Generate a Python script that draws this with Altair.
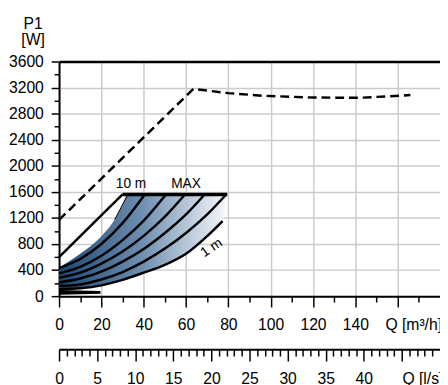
import altair as alt
import pandas as pd

# ---------------- data ----------------
dash_q = [0, 63.5, 80, 96, 120, 142, 166]
dash_p = [1170, 3180, 3115, 3075, 3047, 3043, 3085]

curves = {
    "A": ([0, 30], [600, 1560]),
    "B": ([0, 10, 20, 30, 40.5], [430, 570, 800, 1120, 1560]),
    "C": ([0, 10, 20, 30, 40, 50.5], [350, 450, 620, 860, 1160, 1560]),
    "D": ([0, 10, 20, 30, 40, 50, 59.5], [280, 360, 500, 685, 925, 1220, 1560]),
    "E": ([0, 10, 20, 30, 40, 50, 60, 68.8], [210, 270, 375, 530, 725, 970, 1255, 1560]),
    "F": ([0, 10, 20, 30, 40, 50, 60, 70, 79], [155, 180, 255, 370, 530, 730, 970, 1255, 1560]),
    "G": ([0, 10, 20, 30, 40, 50, 60, 70, 77.3], [105, 120, 165, 250, 360, 480, 650, 920, 1150]),
    "S1": ([0, 19.5], [75, 60]),
    "S2": ([0, 19.5], [40, 55]),
}
max_q = [30, 79.5]
max_p = [1560, 1560]
thin_q = [26.3, 32.5]
thin_p = [1175, 1560]

fill_q = [0, 10, 20, 26.3, 30, 32.5, 40, 50, 60, 70, 77.3, 79]
fill_top = [440, 650, 920, 1175, 1400, 1560, 1560, 1560, 1560, 1560, 1560, 1560]
fill_bot = [105, 120, 165, 218, 250, 275, 360, 480, 650, 920, 1150, 1560]

label_text = ["10 m", "MAX"]
label_q = [34, 60]
label_p = [1720, 1720]
one_m_q = [72]
one_m_p = [740]

x_ticks = list(range(0, 180, 10))
y_ticks = list(range(0, 3601, 200))
ls_ticks = list(range(0, 50))

FONT = "Liberation Sans"
FS = 16

# ---------------- tables ----------------
dash_df = pd.DataFrame({"Q": dash_q, "P": dash_p})
rows = []
for name, (qs, ps) in curves.items():
    for i, (q, p) in enumerate(zip(qs, ps)):
        rows.append({"curve": name, "Q": q, "P": p, "o": i})
curve_df = pd.DataFrame(rows)
max_df = pd.DataFrame({"Q": max_q, "P": max_p})
thin_df = pd.DataFrame({"Q": thin_q, "P": thin_p})
fill_df = pd.DataFrame({"Q": fill_q, "top": fill_top, "bot": fill_bot})
lab_df = pd.DataFrame({"Q": label_q, "P": label_p, "t": label_text})
one_df = pd.DataFrame({"Q": one_m_q, "P": one_m_p, "t": ["1 m"]})

xs = alt.Scale(domain=[0, 180], nice=False, zero=False)
ys = alt.Scale(domain=[0, 3600], nice=False)

y_axis = alt.Axis(
    values=y_ticks, format="d",
    labelExpr="datum.value % 400 == 0 ? datum.label : ''",
    tickSize={"condition": {"test": "datum.value % 400 == 0", "value": 8}, "value": 5},
    tickColor="black", tickWidth=1.5,
    domainColor="black", domainWidth=2,
    grid=True,
    gridColor={"condition": {"test": "datum.value == 3600", "value": "black"}, "value": "#cccccc"},
    gridWidth={"condition": {"test": "datum.value == 3600", "value": 2.5}, "value": 1.5},
    gridOpacity={"condition": {"test": "datum.value % 400 == 0", "value": 1}, "value": 0},
    labelFont=FONT, labelFontSize=FS, labelColor="black", labelPadding=8,
    labelOverlap=False,
    title=["P1", "[W]"], titleAngle=0, titleAlign="center", titleBaseline="bottom",
    titleX=-27, titleY=-31, titleFont=FONT, titleFontSize=FS, titleFontWeight="normal",
    titleColor="black", titleLineHeight=17,
)

x_axis = alt.Axis(
    orient="bottom",
    values=x_ticks, format="d",
    labelExpr="datum.value == 160 ? 'Q [m³/h]' : (datum.value % 20 == 0 && datum.value < 160 ? datum.label : '')",
    tickSize={"condition": {"test": "datum.value % 20 == 0", "value": 11}, "value": 6},
    tickColor="black", tickWidth=1.5,
    domainColor="black", domainWidth=2,
    grid=True, gridColor="#cccccc", gridWidth=1.5,
    gridOpacity={"condition": {"test": "datum.value % 20 == 0", "value": 1}, "value": 0},
    labelFont=FONT, labelFontSize=FS, labelColor="black", labelPadding=10,
    labelAlign={"condition": {"test": "datum.value == 160", "value": "left"}, "value": "center"},
    labelOffset={"condition": {"test": "datum.value == 160", "value": -13}, "value": 0},
    labelFlush=False, labelOverlap=False, title=None,
)

ls_axis = alt.Axis(
    orient="bottom",
    values=[round(v * 3.6, 6) for v in ls_ticks],
    labelExpr="round(datum.value/3.6) == 45 ? 'Q [l/s]' : (round(datum.value/3.6) % 5 == 0 && round(datum.value/3.6) < 45 ? format(round(datum.value/3.6), 'd') : '')",
    tickSize={"condition": {"test": "round(datum.value/3.6) % 5 == 0", "value": 12}, "value": 7},
    tickColor="black", tickWidth=1.5,
    domainColor="black", domainWidth=2,
    grid=False, offset=54,
    labelFont=FONT, labelFontSize=FS, labelColor="black", labelPadding=10,
    labelAlign={"condition": {"test": "round(datum.value/3.6) == 45", "value": "left"}, "value": "center"},
    labelFlush=False, labelOverlap=False, title=None,
)

grad = alt.Gradient(
    gradient="linear",
    stops=[
        alt.GradientStop(color="#1a4774", offset=0),
        alt.GradientStop(color="#6f8fb0", offset=0.5),
        alt.GradientStop(color="#f6f8fb", offset=1),
    ],
    x1=0, x2=1, y1=0, y2=0,
)

fill = alt.Chart(fill_df).mark_area(color=grad, interpolate="monotone").encode(
    x=alt.X("Q:Q", scale=xs, axis=ls_axis),
    y=alt.Y("top:Q", scale=ys, axis=y_axis),
    y2="bot:Q",
)

dash = alt.Chart(dash_df).mark_line(color="black", strokeWidth=2.5, strokeDash=[9, 5]).encode(
    x=alt.X("Q:Q", scale=xs, axis=x_axis),
    y=alt.Y("P:Q", scale=ys, axis=y_axis),
)

lines = alt.Chart(curve_df).mark_line(color="black", strokeWidth=2.5, interpolate="monotone").encode(
    x=alt.X("Q:Q", scale=xs, axis=None),
    y=alt.Y("P:Q", scale=ys, axis=y_axis),
    detail="curve:N",
    order="o:Q",
)

maxl = alt.Chart(max_df).mark_line(color="black", strokeWidth=3.5).encode(
    x=alt.X("Q:Q", scale=xs, axis=None),
    y=alt.Y("P:Q", scale=ys, axis=y_axis),
)

thin = alt.Chart(thin_df).mark_line(color="black", strokeWidth=1).encode(
    x=alt.X("Q:Q", scale=xs, axis=None),
    y=alt.Y("P:Q", scale=ys, axis=y_axis),
)

labels = alt.Chart(lab_df).mark_text(font=FONT, fontSize=14, color="black").encode(
    x=alt.X("Q:Q", scale=xs, axis=None),
    y=alt.Y("P:Q", scale=ys, axis=y_axis),
    text="t:N",
)

one = alt.Chart(one_df).mark_text(font=FONT, fontSize=14, color="black", angle=326).encode(
    x=alt.X("Q:Q", scale=xs, axis=None),
    y=alt.Y("P:Q", scale=ys, axis=y_axis),
    text="t:N",
)

chart = alt.layer(fill, dash, lines, maxl, thin, labels, one).resolve_axis(
    x="independent"
).properties(
    width=388, height=239,
    padding={"left": 52, "top": 51, "right": 0, "bottom": 87},
    autosize=alt.AutoSizeParams(type="none"),
).configure_view(stroke=None)

chart.save("out.html", embed_options={"renderer": "svg", "actions": False})
